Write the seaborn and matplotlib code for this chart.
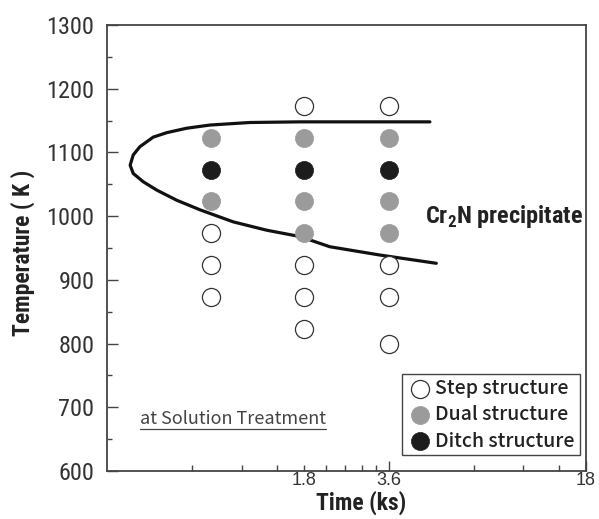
import matplotlib
matplotlib.use("Agg")
import matplotlib.pyplot as plt
import seaborn as sns
from matplotlib.ticker import NullFormatter
from matplotlib.lines import Line2D

# ---- data ----
step_t = [0.84, 0.84, 0.84, 1.8, 1.8, 1.8, 1.8, 3.6, 3.6, 3.6, 3.6]
step_T = [973, 923, 873, 1173, 923, 873, 823, 1173, 923, 873, 800]
dual_t = [0.84, 0.84, 1.8, 1.8, 1.8, 3.6, 3.6, 3.6]
dual_T = [1123, 1023, 1123, 1023, 973, 1123, 1023, 973]
ditch_t = [0.84, 1.8, 3.6]
ditch_T = [1073, 1073, 1073]

curve_t = [5.03, 3.0, 1.74, 1.157, 0.835, 0.690, 0.586, 0.525, 0.471, 0.446, 0.435,
           0.446, 0.484, 0.54, 0.636, 0.769, 1.01, 1.325, 1.74, 2.22, 3.34, 5.3]
curve_T = [1148, 1148, 1148, 1147, 1143, 1138, 1131, 1124, 1109, 1096, 1080,
           1067, 1054, 1041, 1025, 1010, 991, 978, 968, 952, 939, 926]

x_ticks = [1.8, 3.6, 18]
x_tick_labels = ["1.8", "3.6", "18"]
x_minor = [0.72, 1.08, 1.44, 2.16, 2.52, 2.88, 3.24, 7.2, 10.8, 14.4]
y_ticks = [600, 700, 800, 900, 1000, 1100, 1200, 1300]
y_minor = [650, 750, 850, 950, 1050, 1150, 1250]

legend_labels = ["Step structure", "Dual structure", "Ditch structure"]

sns.set_style("ticks")
plt.rcParams["mathtext.fontset"] = "custom"
plt.rcParams["mathtext.rm"] = "Roboto Condensed"
plt.rcParams["mathtext.bf"] = "Roboto Condensed:bold"

NARROW = ["Roboto Condensed", "DejaVu Sans"]
GOTH = ["Noto Sans CJK JP", "DejaVu Sans"]
DK = "#333333"

fig = plt.figure(figsize=(5.99, 5.19), dpi=100)
ax = fig.add_axes([0.1786, 0.0925, 0.7997, 0.8593])

sns.lineplot(x=curve_t, y=curve_T, sort=False, estimator=None, color="#111111",
             linewidth=2.3, ax=ax)

ms = 170
sns.scatterplot(x=step_t, y=step_T, s=ms, color="white", edgecolor="#333333",
                linewidth=0.9, ax=ax, label=legend_labels[0], zorder=3)
sns.scatterplot(x=dual_t, y=dual_T, s=ms, color="#9b9b9b", edgecolor="#9b9b9b",
                linewidth=0.5, ax=ax, label=legend_labels[1], zorder=3)
sns.scatterplot(x=ditch_t, y=ditch_T, s=ms, color="#1c1c1c", edgecolor="#1c1c1c",
                linewidth=0.5, ax=ax, label=legend_labels[2], zorder=3)

ax.set_xscale("log")
ax.set_xlim(0.36, 18)
ax.set_ylim(600, 1300)

ax.set_xticks(x_ticks, labels=x_tick_labels)
ax.set_xticks(x_minor, minor=True)
ax.xaxis.set_minor_formatter(NullFormatter())
ax.set_yticks(y_ticks)
ax.set_yticks(y_minor, minor=True)

ax.tick_params(axis="both", which="both", direction="in", color="#444444",
               width=1.0)
ax.tick_params(axis="y", which="major", length=7.7, pad=9, labelsize=17.5,
               labelcolor=DK)
ax.tick_params(axis="y", which="minor", length=3.8)
ax.tick_params(axis="x", which="major", length=7.5, pad=1, labelsize=13,
               labelcolor=DK)
ax.tick_params(axis="x", which="minor", length=4)
ax.xaxis.get_major_ticks()[0].tick1line.set_markersize(4)

for lab in ax.get_yticklabels():
    lab.set_family(NARROW)
for lab in ax.get_xticklabels():
    lab.set_family(["Liberation Sans", "DejaVu Sans"])

for sp in ax.spines.values():
    sp.set_color("#444444")
    sp.set_linewidth(1.3)

ax.set_xlabel("Time (ks)", fontsize=17, fontweight="bold", family=NARROW,
              color="#222222")
ax.xaxis.set_label_coords(0.53, -0.045)
ax.set_ylabel("Temperature ( K )", fontsize=17, fontweight="bold", family=NARROW,
              color="#222222")
ax.yaxis.set_label_coords(-0.15, 0.49)

ax.text(0.993, 0.57, r"Cr$_\mathbf{2}$N precipitate", transform=ax.transAxes,
        fontsize=17.5, fontweight="bold", family=NARROW, color="#222222",
        ha="right", va="center")

t = ax.text(0.069, 0.105, "at Solution Treatment", transform=ax.transAxes,
            fontsize=13, family=GOTH, color="#444444", ha="left",
            va="baseline")

leg = ax.legend(loc="lower right", bbox_to_anchor=(0.987, 0.035),
                prop={"family": GOTH, "size": 14, "weight": "medium"},
                frameon=True, fancybox=False, edgecolor="#444444",
                framealpha=1, handletextpad=0.15, borderpad=0.25,
                labelspacing=0.38, handlelength=1.3, borderaxespad=0)
leg.get_frame().set_linewidth(1.0)
for txt in leg.get_texts():
    txt.set_color("#222222")

fig.canvas.draw()
renderer = fig.canvas.get_renderer()
bb = t.get_window_extent(renderer)
inv = fig.transFigure.inverted()
(x0, y0), (x1, _) = inv.transform([(bb.x0, bb.y0 - 1), (bb.x1, bb.y0)])
fig.add_artist(Line2D([x0, x1], [y0, y0], transform=fig.transFigure,
                      color="#444444", linewidth=0.9))

fig.savefig("out.png", dpi=100)
